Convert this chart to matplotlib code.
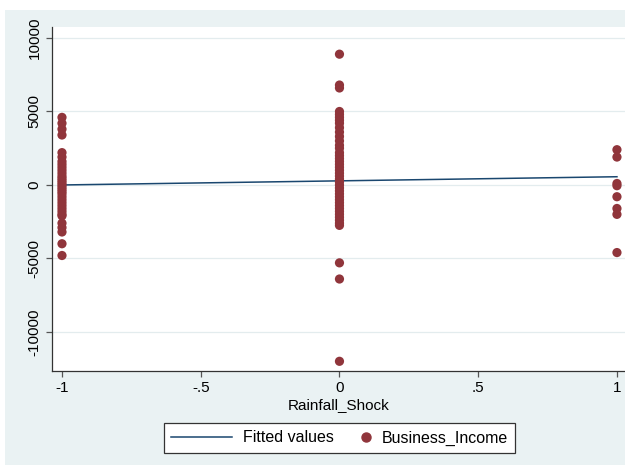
import matplotlib.pyplot as plt
from matplotlib.patches import Rectangle
from matplotlib.lines import Line2D
from matplotlib.legend_handler import HandlerLine2D

plt.rcParams["font.family"] = ["Liberation Sans", "DejaVu Sans"]

# Business income by rainfall shock group
shock_neg = [4600, 4200, 3800, 3400, 2200, 1900, 1600, 1400, 1200, 1000, 800,
             600, 450, 300, 150, 0, -150, -300, -450, -600, -800, -1000, -1200,
             -1400, -1600, -1800, -2000, -2100, -2600, -2900, -3200, -4000, -4800]
shock_zero = [8900, 6800, 6600, 5000, 4800, 4600, 4400, 4200, 3900, 3600, 3300,
              3000, 2700, 2500, 2200, 2000, 1800, 1600, 1400, 1200, 1000, 800,
              600, 400, 200, 0, -200, -400, -600, -800, -1000, -1200, -1400,
              -1600, -1800, -2000, -2200, -2400, -2600, -2750, -5300, -6400, -12000]
shock_pos = [2400, 1900, 100, -50, -800, -1600, -2000, -4600]

# fitted line endpoints
fit_x = [-1, 1]
fit_y = [0, 560]

xticks = [-1, -0.5, 0, 0.5, 1]
xticklabels = ["-1", "-.5", "0", ".5", "1"]
yticks = [-10000, -5000, 0, 5000, 10000]

navy = "#1A476F"
maroon = "#90353B"
bg = "#EAF2F3"

fig = plt.figure(figsize=(6.25, 4.69), dpi=100, facecolor="white")
fig.patches.append(Rectangle((5 / 625, 4 / 469), 1.0, 455 / 469,
                             transform=fig.transFigure, facecolor=bg,
                             edgecolor="none", zorder=-10))

ax = fig.add_axes([52 / 625, 1 - 371 / 469, 1 - 52 / 625, (371 - 27) / 469])
ax.set_facecolor("white")

xs = [-1] * len(shock_neg) + [0] * len(shock_zero) + [1] * len(shock_pos)
ys = shock_neg + shock_zero + shock_pos

ax.plot(fit_x, fit_y, color=navy, lw=1.1, zorder=3)
ax.scatter(xs, ys, s=44, color=maroon, edgecolors="none", zorder=4)

ax.set_xlim(-1.036, 1.029)
ax.set_ylim(-12660, 10750)
ax.set_xticks(xticks)
ax.set_xticklabels(xticklabels)
ax.set_yticks(yticks)
ax.set_yticklabels([str(v) for v in yticks], rotation=90, va="center")
ax.tick_params(labelsize=11, length=4.5, width=0.9, color="#555555", pad=3)

for y in yticks:
    ax.axhline(y, color="#E3ECEE", lw=0.9, zorder=1)

for s in ["top", "right"]:
    ax.spines[s].set_visible(False)
for s in ["left", "bottom"]:
    ax.spines[s].set_color("#333333")
    ax.spines[s].set_linewidth(0.9)

ax.set_xlabel("Rainfall_Shock", fontsize=11, labelpad=2)


class DotAtRight(HandlerLine2D):
    # put the single marker near the label instead of in the middle
    def get_xdata(self, legend, xdescent, ydescent, width, height, fontsize):
        right = width - xdescent - 3
        return [right - 4, right + 4], [right]


h_line = Line2D([], [], color=navy, lw=1.1)
h_dot = Line2D([], [], color=maroon, marker="o", ls="none", markersize=6.5)
leg = fig.legend([h_line, h_dot], ["Fitted values", "Business_Income"],
                 loc="center", bbox_to_anchor=(339.5 / 625, 1 - 438 / 469), ncol=2,
                 fontsize=11.5, frameon=True, fancybox=False, handlelength=3.8,
                 handletextpad=0.7, columnspacing=-1.55, borderpad=0.45,
                 numpoints=1, handler_map={h_dot: DotAtRight()})
leg.get_frame().set_edgecolor("#333333")
leg.get_frame().set_facecolor("white")
leg.get_frame().set_alpha(1)
leg.get_frame().set_linewidth(0.9)

fig.savefig("out.png", dpi=100, facecolor="white")
